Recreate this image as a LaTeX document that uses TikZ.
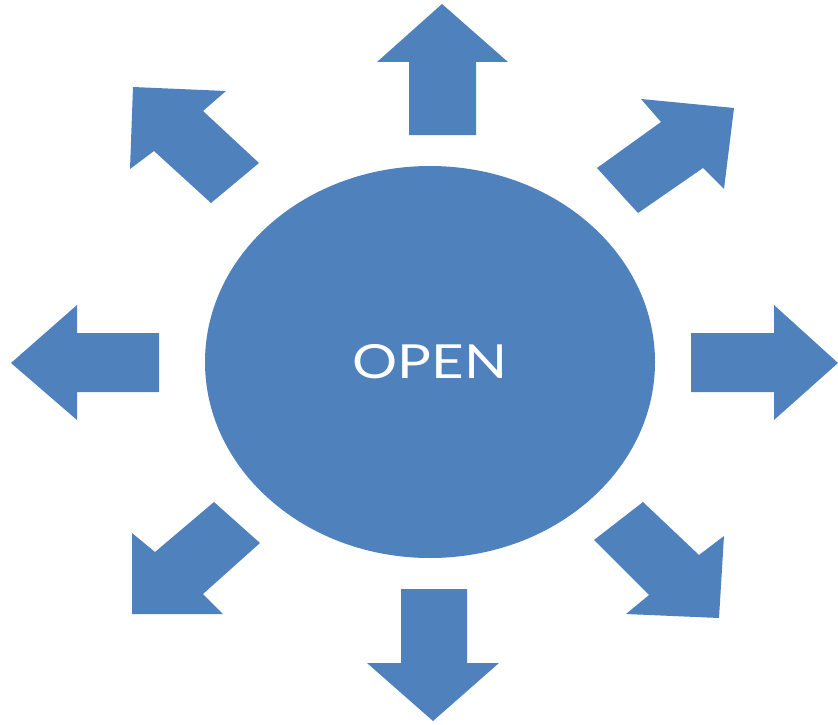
\documentclass[tikz,border=0pt]{standalone}
\usepackage{fontspec}
\setmainfont{Lato}
\newfontfamily\openfont[FakeStretch=1.2]{Lato}
\usetikzlibrary{shapes.geometric}
\definecolor{openblue}{HTML}{4F81BD}
\tikzset{
  blockarrow/.style={fill=openblue, draw=none},
  hub/.style={ellipse, fill=openblue, draw=none, minimum width=450pt, minimum height=392pt, inner sep=0pt, text=white, font=\openfont\fontsize{47}{47}\selectfont}
}
\begin{document}
\begin{tikzpicture}[x=1pt, y=-1pt]
\useasboundingbox (0,0) rectangle (838,725);
\node[hub] (center) at (430,362) {\raisebox{-3pt}{OPEN}};
% up
\fill[blockarrow] (442,4) -- (508,62) -- (476,62) -- (476,135) -- (409,135) -- (409,62) -- (377,62) -- cycle;
% down
\fill[blockarrow] (433,721) -- (499,663) -- (467,663) -- (467,589) -- (401,589) -- (401,663) -- (367,663) -- cycle;
% left
\fill[blockarrow] (11,363) -- (77,305) -- (77,333) -- (159,333) -- (159,392) -- (77,392) -- (77,420) -- cycle;
% right
\fill[blockarrow] (838,363) -- (774,305) -- (774,333) -- (691,333) -- (691,392) -- (774,392) -- (774,420) -- cycle;
% upper right
\fill[blockarrow] (734,108) -- (641,99) -- (661,122) -- (597,168) -- (638,213) -- (703,168) -- (724,189) -- cycle;
% upper left
\fill[blockarrow] (133,87) -- (226,91) -- (203,111) -- (259,163) -- (211,203) -- (154,151) -- (130,169) -- cycle;
% lower left
\fill[blockarrow] (132,614) -- (223,614) -- (203,594) -- (260,543) -- (214,502) -- (155,552) -- (132,533) -- cycle;
% lower right
\fill[blockarrow] (719,618) -- (724,536) -- (699,555) -- (643,502) -- (594,540) -- (649,595) -- (626,614) -- cycle;
\end{tikzpicture}
\end{document}
